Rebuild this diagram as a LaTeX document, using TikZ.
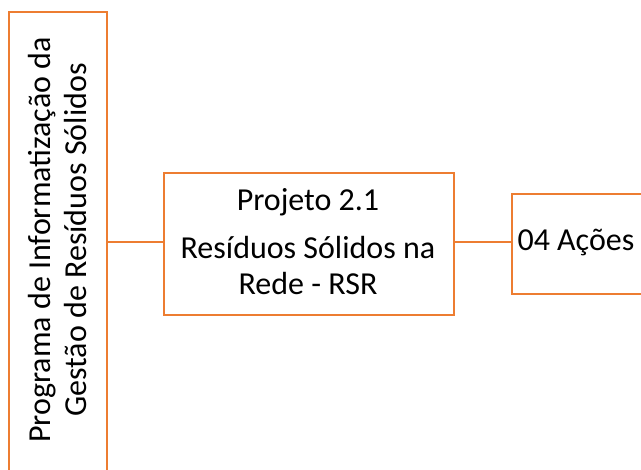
\documentclass[tikz,border=0pt]{standalone}
\usepackage{fontspec}
\setmainfont{Carlito}
\definecolor{boxorange}{RGB}{237,125,49}
\begin{document}
\begin{tikzpicture}[x=1pt,y=-1pt,
  box/.style={draw=boxorange,line width=2pt,fill=white,inner sep=0pt},
  conn/.style={draw=boxorange,line width=2pt},
  txt/.style={font=\fontsize{32}{36}\selectfont,align=center}]
\useasboundingbox (0,0) rectangle (641,470);
\node[box,minimum width=98pt,minimum height=476pt,anchor=north west] (prog) at (8,11) {};
\node[txt,rotate=90] (progtxt) at (58,240) {Programa de Informatização da\\Gestão de Resíduos Sólidos};
\node[box,minimum width=290pt,minimum height=142pt,anchor=north west] (proj) at (163,172) {};
\node[txt] (projtxt) at (308,242) {Projeto 2.1\\[12pt]Resíduos Sólidos na\\Rede - RSR};
\node[box,minimum width=160pt,minimum height=100pt,anchor=north west] (acoes) at (511,193) {};
\node[txt,anchor=west] (acoestxt) at (514,243) {04 Ações};
\draw[conn] (prog.east |- 0,242) -- (proj.west |- 0,242);
\draw[conn] (proj.east |- 0,242) -- (acoes.west |- 0,242);
\end{tikzpicture}
\end{document}
